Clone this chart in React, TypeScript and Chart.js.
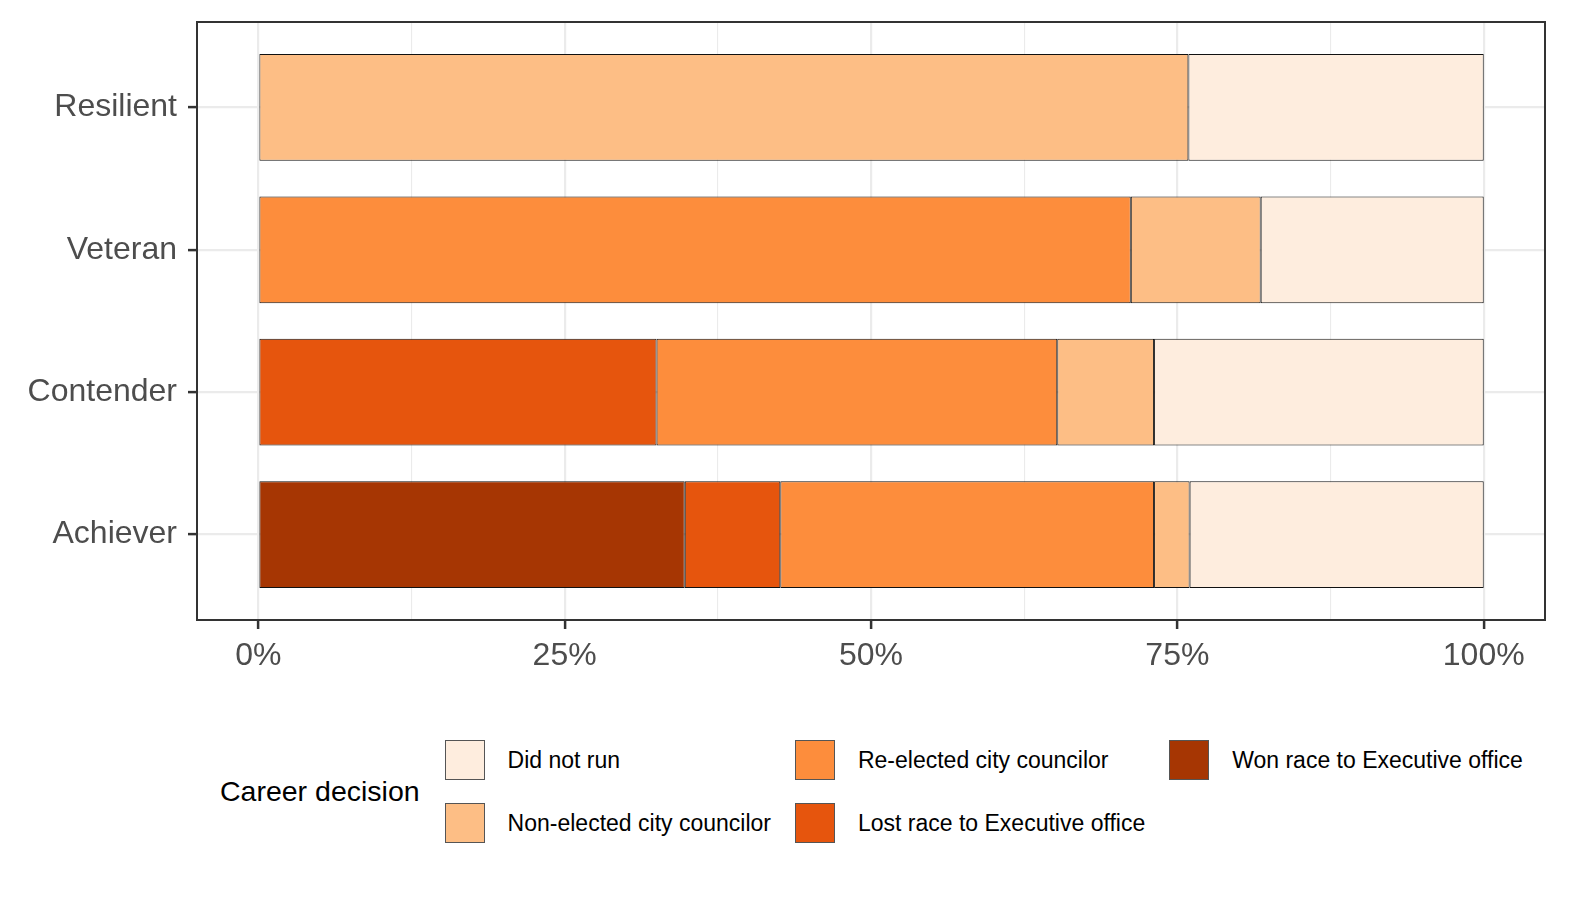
import { useEffect, useRef } from "react"
import { Chart, registerables } from "chart.js"

Chart.register(...registerables)

const FONT = '"Liberation Sans", Arial, Helvetica, sans-serif'

// categories from top to bottom
const categories = ["Resilient", "Veteran", "Contender", "Achiever"]

// stack order, left to right
const decisions = [
  "Won race to Executive office",
  "Lost race to Executive office",
  "Re-elected city councilor",
  "Non-elected city councilor",
  "Did not run",
]
const colors = ["#A63603", "#E6550D", "#FD8D3C", "#FDBE85", "#FEEDDE"]

// share of each category (%), same order as categories
const wonRace = [0, 0, 0, 34.8]
const lostRace = [0, 0, 32.5, 7.8]
const reElected = [0, 71.2, 32.7, 30.5]
const nonElected = [75.9, 10.6, 7.9, 2.9]
const didNotRun = [24.1, 18.2, 26.9, 24.0]

const seriesValues = [wonRace, lostRace, reElected, nonElected, didNotRun]

const xTicks = [0, 12.5, 25, 37.5, 50, 62.5, 75, 87.5, 100]
const xTickLabels = ["0%", "", "25%", "", "50%", "", "75%", "", "100%"]

// legend is filled column by column, reverse of the stack
const legendOrder = [...decisions].reverse()

const panelBorder = {
  id: "panelBorder",
  afterDraw(chart: Chart) {
    const { ctx, chartArea: a } = chart
    ctx.save()
    ctx.strokeStyle = "#333333"
    ctx.lineWidth = 2
    ctx.strokeRect(a.left, a.top, a.right - a.left, a.bottom - a.top)
    ctx.restore()
  },
}

function Legend() {
  return (
    <div
      style={{
        position: "absolute",
        left: 220,
        top: 740,
        display: "flex",
        alignItems: "center",
        fontFamily: FONT,
        color: "#000",
      }}
    >
      <div style={{ fontSize: 28.5, marginRight: 25 }}>Career decision</div>
      <div
        style={{
          display: "grid",
          gridTemplateRows: "40px 40px",
          gridAutoFlow: "column",
          rowGap: 23,
          columnGap: 24,
        }}
      >
        {legendOrder.map((name) => (
          <div key={name} style={{ display: "flex", alignItems: "center" }}>
            <div
              style={{
                width: 38,
                height: 38,
                border: "1px solid #555",
                background: colors[decisions.indexOf(name)],
                marginRight: 23,
              }}
            />
            <span style={{ fontSize: 23, whiteSpace: "nowrap" }}>{name}</span>
          </div>
        ))}
      </div>
    </div>
  )
}

export default function App() {
  const chartRef = useRef<HTMLCanvasElement>(null)

  useEffect(() => {
    if (!chartRef.current) return
    const ctx = chartRef.current.getContext("2d")
    if (!ctx) return

    const datasets = decisions.map((name, index) => ({
      label: name,
      data: seriesValues[index].map((v, i) => ({ x: v, y: categories.length - 1 - i })),
      backgroundColor: colors[index],
      borderColor: "#111111",
      borderWidth: 1,
      borderSkipped: false as const,
      barPercentage: 0.75,
      categoryPercentage: 1,
    }))

    const chart = new Chart(ctx, {
      type: "bar",
      data: { datasets },
      options: {
        indexAxis: "y",
        responsive: false,
        animation: false,
        layout: { padding: { top: 22, right: 45, bottom: 10, left: 0 } },
        plugins: {
          legend: { display: false },
          tooltip: { enabled: false },
        },
        scales: {
          x: {
            type: "linear",
            stacked: true,
            min: -5,
            max: 105,
            afterBuildTicks: (scale) => {
              scale.ticks = xTicks.map((value) => ({ value }))
            },
            afterFit: (scale) => {
              scale.height = 70
            },
            border: { display: false },
            grid: {
              color: "#EBEBEB",
              lineWidth: (c) => (xTickLabels[c.index] === "" ? 1.1 : 2.2),
              tickColor: (c) => (xTickLabels[c.index] === "" ? "rgba(0,0,0,0)" : "#333333"),
              tickWidth: 2.5,
              tickLength: 9,
            },
            ticks: {
              autoSkip: false,
              maxRotation: 0,
              padding: 8,
              color: "#4D4D4D",
              font: { family: FONT, size: 32 },
              callback: (_value, index) => xTickLabels[index],
            },
          },
          y: {
            type: "linear",
            stacked: true,
            offset: false,
            min: -0.6,
            max: categories.length - 1 + 0.6,
            afterBuildTicks: (scale) => {
              scale.ticks = categories.map((_, i) => ({ value: i }))
            },
            afterFit: (scale) => {
              scale.width = 197
              // labels sit well inside the panel, no need for edge padding
              scale.paddingTop = 0
              scale.paddingBottom = 0
            },
            border: { display: false },
            grid: {
              offset: false,
              color: "#EBEBEB",
              lineWidth: 2.2,
              tickColor: "#333333",
              tickWidth: 2.5,
              tickLength: 9,
            },
            ticks: {
              autoSkip: false,
              padding: 11,
              color: "#4D4D4D",
              font: { family: FONT, size: 32 },
              callback: (value) => categories[categories.length - 1 - Number(value)],
            },
          },
        },
      },
      plugins: [panelBorder],
    })

    return () => {
      chart.destroy()
    }
  }, [])

  return (
    <div style={{ position: "absolute", left: 0, top: 0, width: 1590, height: 900, background: "#fff" }}>
      <canvas ref={chartRef} width={1590} height={700} style={{ display: "block" }} />
      <Legend />
    </div>
  )
}
